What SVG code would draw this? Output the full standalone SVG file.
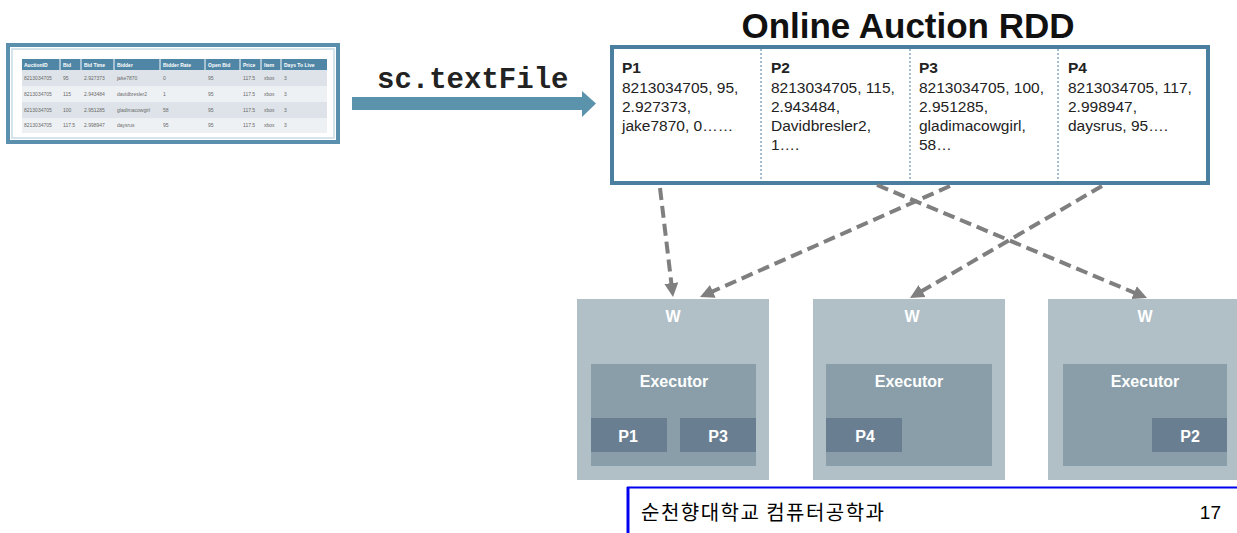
<svg xmlns="http://www.w3.org/2000/svg" width="1237" height="533" viewBox="0 0 1237 533">
<defs>
<style>
.th{font-family:"Liberation Sans",Arial,sans-serif;font-size:5px;font-weight:bold;fill:#ffffff}
.td{font-family:"Liberation Sans",Arial,sans-serif;font-size:5px;fill:#6a6a6a}
.pt{font-family:"Liberation Sans",Arial,sans-serif;font-size:15.5px;fill:#222222}
.ph{font-family:"Liberation Sans",Arial,sans-serif;font-size:15.5px;font-weight:bold;fill:#222222}
.wt{font-family:"Liberation Sans",Arial,sans-serif;font-size:16px;font-weight:bold;fill:#ffffff;text-anchor:middle}
.wbox{fill:#b1c0c7}
.ebox{fill:#899ea9}
.pbox{fill:#6a7e92}
.dash{stroke:#7f7f7f;stroke-width:4;stroke-dasharray:12 6;fill:none}
.div{stroke:#4a7fa0;stroke-width:1;stroke-dasharray:2 2}
</style>
<marker id="ah" markerUnits="userSpaceOnUse" markerWidth="16" markerHeight="16" refX="8" refY="7" orient="auto">
<path d="M0,0 L14,7 L0,14 z" fill="#7f7f7f"/>
</marker>
</defs>
<rect width="1237" height="533" fill="#ffffff"/>

<g id="table">
<rect x="8" y="45" width="330" height="97" fill="#ffffff" stroke="#5a8fad" stroke-width="4"/>
<rect x="12" y="49" width="322" height="89" fill="none" stroke="#c9dbe6" stroke-width="1.5"/>
<rect x="22" y="59" width="305" height="11" fill="#4f86a5"/>
<rect x="22" y="70" width="305" height="16" fill="#dde3e8"/>
<rect x="22" y="86" width="305" height="16" fill="#eef1f4"/>
<rect x="22" y="102" width="305" height="16" fill="#dde3e8"/>
<rect x="22" y="118" width="305" height="15" fill="#eef1f4"/>
<g stroke="#ffffff" stroke-width="1">
<line x1="60" y1="59" x2="60" y2="70"/><line x1="81" y1="59" x2="81" y2="70"/><line x1="114" y1="59" x2="114" y2="70"/><line x1="160" y1="59" x2="160" y2="70"/><line x1="205" y1="59" x2="205" y2="70"/><line x1="240" y1="59" x2="240" y2="70"/><line x1="261" y1="59" x2="261" y2="70"/><line x1="281" y1="59" x2="281" y2="70"/>
</g>
<text class="th" y="66.5"><tspan x="24">AuctionID</tspan><tspan x="63">Bid</tspan><tspan x="84">Bid Time</tspan><tspan x="117">Bidder</tspan><tspan x="163">Bidder Rate</tspan><tspan x="208">Open Bid</tspan><tspan x="243">Price</tspan><tspan x="264">Item</tspan><tspan x="284">Days To Live</tspan></text>
<text class="td" y="79.5"><tspan x="24">8213034705</tspan><tspan x="63">95</tspan><tspan x="84">2.927373</tspan><tspan x="117">jake7870</tspan><tspan x="163">0</tspan><tspan x="208">95</tspan><tspan x="243">117.5</tspan><tspan x="264">xbox</tspan><tspan x="284">3</tspan></text>
<text class="td" y="95.5"><tspan x="24">8213034705</tspan><tspan x="63">115</tspan><tspan x="84">2.943484</tspan><tspan x="117">davidbresler2</tspan><tspan x="163">1</tspan><tspan x="208">95</tspan><tspan x="243">117.5</tspan><tspan x="264">xbox</tspan><tspan x="284">3</tspan></text>
<text class="td" y="111.5"><tspan x="24">8213034705</tspan><tspan x="63">100</tspan><tspan x="84">2.951285</tspan><tspan x="117">gladimacowgirl</tspan><tspan x="163">58</tspan><tspan x="208">95</tspan><tspan x="243">117.5</tspan><tspan x="264">xbox</tspan><tspan x="284">3</tspan></text>
<text class="td" y="127"><tspan x="24">8213034705</tspan><tspan x="63">117.5</tspan><tspan x="84">2.998947</tspan><tspan x="117">daysrus</tspan><tspan x="163">95</tspan><tspan x="208">95</tspan><tspan x="243">117.5</tspan><tspan x="264">xbox</tspan><tspan x="284">3</tspan></text>
</g>

<g id="textfile-arrow">
<text x="377" y="88" font-family="'Liberation Mono','Courier New',monospace" font-size="29" font-weight="bold" fill="#222222">sc.textFile</text>
<polygon points="352,97 582,97 582,91 596,103.5 582,117 582,110 352,110" fill="#5b93ad"/>
</g>

<g id="rdd">
<text x="908" y="38" font-family="'Liberation Sans',Arial,sans-serif" font-size="35" font-weight="bold" fill="#111111" text-anchor="middle">Online Auction RDD</text>
<rect x="612" y="47" width="596" height="136" fill="#ffffff" stroke="#4a7fa0" stroke-width="4"/>
<line class="div" x1="761" y1="49" x2="761" y2="181"/>
<line class="div" x1="910" y1="49" x2="910" y2="181"/>
<line class="div" x1="1058" y1="49" x2="1058" y2="181"/>
<text x="622"><tspan class="ph" x="622" y="73">P1</tspan><tspan class="pt" x="622" y="93">8213034705, 95,</tspan><tspan class="pt" x="622" y="112">2.927373,</tspan><tspan class="pt" x="622" y="131">jake7870, 0……</tspan></text>
<text x="771"><tspan class="ph" x="771" y="73">P2</tspan><tspan class="pt" x="771" y="93">8213034705, 115,</tspan><tspan class="pt" x="771" y="112">2.943484,</tspan><tspan class="pt" x="771" y="131">Davidbresler2,</tspan><tspan class="pt" x="771" y="150">1….</tspan></text>
<text x="919"><tspan class="ph" x="919" y="73">P3</tspan><tspan class="pt" x="919" y="93">8213034705, 100,</tspan><tspan class="pt" x="919" y="112">2.951285,</tspan><tspan class="pt" x="919" y="131">gladimacowgirl,</tspan><tspan class="pt" x="919" y="150">58…</tspan></text>
<text x="1068"><tspan class="ph" x="1068" y="73">P4</tspan><tspan class="pt" x="1068" y="93">8213034705, 117,</tspan><tspan class="pt" x="1068" y="112">2.998947,</tspan><tspan class="pt" x="1068" y="131">daysrus, 95….</tspan></text>
</g>

<g id="worker1">
<rect class="wbox" x="577" y="299" width="192" height="181"/>
<text class="wt" x="673" y="322">W</text>
<rect class="ebox" x="591" y="364" width="165" height="102"/>
<text class="wt" x="674" y="387">Executor</text>
<rect class="pbox" x="591" y="418" width="76" height="34"/>
<text class="wt" x="628" y="442">P1</text>
<rect class="pbox" x="680" y="418" width="76" height="34"/>
<text class="wt" x="718" y="442">P3</text>
</g>

<g id="worker2">
<rect class="wbox" x="813" y="299" width="192" height="181"/>
<text class="wt" x="912" y="322">W</text>
<rect class="ebox" x="826" y="364" width="166" height="102"/>
<text class="wt" x="909" y="387">Executor</text>
<rect class="pbox" x="826" y="418" width="76" height="34"/>
<text class="wt" x="865" y="442">P4</text>
</g>

<g id="worker3">
<rect class="wbox" x="1048" y="299" width="192" height="181"/>
<text class="wt" x="1145" y="322">W</text>
<rect class="ebox" x="1063" y="364" width="164" height="102"/>
<text class="wt" x="1145" y="387">Executor</text>
<rect class="pbox" x="1152" y="418" width="75" height="34"/>
<text class="wt" x="1190" y="442">P2</text>
</g>

<g id="connectors">
<line class="dash" x1="660" y1="188" x2="672.3" y2="291" marker-end="url(#ah)"/>
<line class="dash" x1="950" y1="186" x2="705.5" y2="294.6" marker-end="url(#ah)"/>
<line class="dash" x1="1102" y1="186" x2="915.2" y2="295" marker-end="url(#ah)"/>
<line class="dash" x1="877" y1="185" x2="1141.5" y2="295.7" marker-end="url(#ah)"/>
</g>

<g id="footer">
<line x1="627" y1="487.5" x2="1237" y2="487.5" stroke="#0000ee" stroke-width="2"/>
<line x1="628" y1="487" x2="628" y2="533" stroke="#0000ee" stroke-width="3"/>
<text x="641" y="520" font-family="'Noto Sans CJK KR','Liberation Sans',sans-serif" font-size="20" fill="#000000" textLength="243" lengthAdjust="spacing">순천향대학교 컴퓨터공학과</text>
<text x="1221" y="519" font-family="'Liberation Sans',Arial,sans-serif" font-size="19" fill="#000000" text-anchor="end">17</text>
</g>
</svg>
